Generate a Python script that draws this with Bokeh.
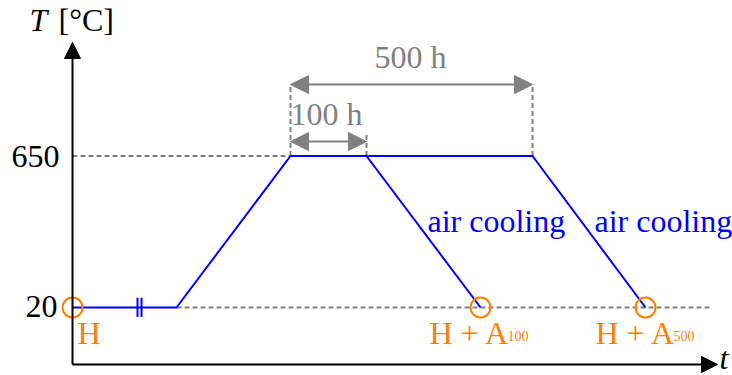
from bokeh.plotting import figure
from bokeh.models import Arrow, NormalHead, Range1d
from bokeh.embed import file_html
from bokeh.resources import INLINE
from bokeh.core.properties import value

# ---------------- data (schematic time units, temperature in °C) ----------------
profile_time = [0, 104, 218, 460, 573]
profile_temp = [20, 20, 650, 650, 20]
cool100_time = [294, 408]
cool100_temp = [650, 20]

sample_time = [0, 408, 573]
sample_temp = [20, 20, 20]
sample_names = ["H", "H + A", "H + A"]
sample_subs = ["100", "500"]

ytick_values = [20, 650]
ytick_labels = ["20", "650"]

hold_labels = ["100 h", "500 h"]
hold_start = [218, 218]
hold_end = [294, 460]
cooling_label = "air cooling"

# ---------------- layout helpers ----------------
FONT = value("Liberation Serif")
BLUE = "#0000ff"
GRAY = "#808080"
ORANGE = "#ff8000"
FS = "32px"
DY = 50  # baseline correction for svg text placement

p = figure(width=732, height=375, output_backend="svg", toolbar_location=None,
           min_border=0, x_range=Range1d(-72, 660), y_range=Range1d(-262.8, 1296.6))
p.axis.visible = False
p.grid.visible = False
p.outline_line_color = None

axis_bottom = -217
axis_top = 1122
axis_right = 645

# gray dashed reference lines
p.segment(x0=[0, profile_time[1]], y0=[ytick_values[1], ytick_values[0]],
          x1=[profile_time[2], 638], y1=[ytick_values[1], ytick_values[0]],
          line_color=GRAY, line_width=2, line_dash="5 3")
p.segment(x0=[hold_start[0], hold_end[1], hold_end[0]], y0=[650, 650, 650],
          x1=[hold_start[0], hold_end[1], hold_end[0]], y1=[947, 947, 744],
          line_color=GRAY, line_width=2, line_dash="5 3")

# hold-time dimension arrows
arrow_y = [710, 947]
for xs, xe, yy in zip(hold_start, hold_end, arrow_y):
    p.add_layout(Arrow(start=NormalHead(size=18, fill_color=GRAY, line_color=GRAY),
                       end=NormalHead(size=18, fill_color=GRAY, line_color=GRAY),
                       x_start=xs, y_start=yy, x_end=xe, y_end=yy,
                       line_color=GRAY, line_width=2))

# temperature profile
p.line(profile_time, profile_temp, line_color=BLUE, line_width=2)
p.line(cool100_time, cool100_temp, line_color=BLUE, line_width=2)
# break marks
p.segment(x0=[65, 69], y0=[-20, -20], x1=[65, 69], y1=[60, 60], line_color=BLUE, line_width=2)

# sample points
p.scatter(sample_time, sample_temp, marker="circle", size=20, fill_color=None,
          line_color=ORANGE, line_width=2)

# axes
p.add_layout(Arrow(end=NormalHead(size=16, fill_color="black", line_color="black"),
                   x_start=0, y_start=axis_bottom, x_end=0, y_end=axis_top,
                   line_color="black", line_width=2))
p.add_layout(Arrow(end=NormalHead(size=16, fill_color="black", line_color="black"),
                   x_start=0, y_start=axis_bottom, x_end=axis_right, y_end=axis_bottom,
                   line_color="black", line_width=2))

# tick labels
p.text(x=[-15, -13], y=[-26 + DY, 598 + DY], text=ytick_labels, text_font=FONT, text_font_size=FS,
       text_align="right", text_baseline="alphabetic", text_color="black")

# axis titles
p.text(x=[-43], y=[1164 + DY], text=["T"], text_font=FONT, text_font_size=FS,
       text_font_style="italic", text_baseline="alphabetic", text_color="black")
p.text(x=[-14], y=[1164 + DY], text=["[°C]"], text_font=FONT, text_font_size=FS,
       text_baseline="alphabetic", text_color="black")
p.text(x=[647], y=[-241 + DY], text=["t"], text_font=FONT, text_font_size=FS,
       text_font_style="italic", text_baseline="alphabetic", text_color="black")

# hold labels
p.text(x=[254, 338], y=[773 + DY, 1010 + DY], text=hold_labels, text_font=FONT, text_font_size=FS,
       text_align="center", text_baseline="alphabetic", text_color=GRAY)

# cooling labels
p.text(x=[355, 522], y=[328 + DY, 328 + DY], text=[cooling_label, cooling_label], text_font=FONT,
       text_font_size=FS, text_baseline="alphabetic", text_color=BLUE)

# sample labels
p.text(x=[5, 357, 523], y=[-138 + DY] * 3, text=sample_names, text_font=FONT,
       text_font_size=FS, text_baseline="alphabetic", text_color=ORANGE)
p.text(x=[435, 601], y=[-150 + DY] * 2, text=sample_subs, text_font=FONT,
       text_font_size="14px", text_baseline="alphabetic", text_color=ORANGE)

open("out.html", "w").write(file_html(p, INLINE))
